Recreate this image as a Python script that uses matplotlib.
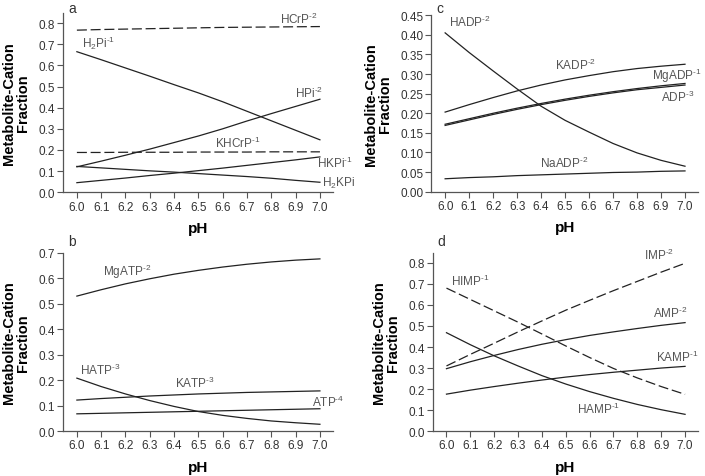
import numpy as np
import matplotlib
matplotlib.use("Agg")
import matplotlib.pyplot as plt
from matplotlib.ticker import MultipleLocator, FormatStrFormatter

plt.rcParams['font.family'] = ['Liberation Sans', 'DejaVu Sans']
plt.rcParams['mathtext.fontset'] = 'custom'
plt.rcParams['mathtext.rm'] = 'Liberation Sans'

ph = [6.0, 6.1, 6.2, 6.3, 6.4, 6.5, 6.6, 6.7, 6.8, 6.9, 7.0]

# panel a - phosphate / creatine phosphate species
hcrp = [0.767, 0.770, 0.772, 0.774, 0.776, 0.778, 0.780, 0.781, 0.782, 0.783, 0.784]
h2pi = [0.665, 0.627, 0.588, 0.549, 0.509, 0.470, 0.428, 0.383, 0.338, 0.293, 0.248]
hpi = [0.120, 0.147, 0.175, 0.204, 0.235, 0.266, 0.300, 0.337, 0.372, 0.406, 0.440]
khcrp = [0.188, 0.188, 0.189, 0.189, 0.189, 0.190, 0.190, 0.190, 0.191, 0.191, 0.191]
hkpi = [0.045, 0.056, 0.067, 0.079, 0.090, 0.102, 0.114, 0.127, 0.140, 0.153, 0.167]
h2kpi = [0.122, 0.115, 0.108, 0.101, 0.095, 0.088, 0.081, 0.074, 0.066, 0.056, 0.047]

# panel b - ATP species
mgatp = [0.530, 0.555, 0.578, 0.598, 0.616, 0.631, 0.644, 0.655, 0.664, 0.671, 0.676]
hatp = [0.208, 0.175, 0.146, 0.120, 0.097, 0.077, 0.062, 0.050, 0.040, 0.033, 0.027]
katp = [0.122, 0.128, 0.133, 0.138, 0.142, 0.146, 0.149, 0.152, 0.154, 0.156, 0.158]
atp = [0.068, 0.070, 0.072, 0.074, 0.076, 0.078, 0.080, 0.082, 0.084, 0.086, 0.088]

# panel c - ADP species
hadp = [0.405, 0.355, 0.308, 0.262, 0.218, 0.182, 0.152, 0.123, 0.099, 0.080, 0.065]
kadp = [0.203, 0.222, 0.240, 0.257, 0.272, 0.285, 0.296, 0.306, 0.314, 0.320, 0.325]
mgadp = [0.172, 0.186, 0.200, 0.213, 0.225, 0.236, 0.246, 0.255, 0.263, 0.270, 0.276]
adp = [0.169, 0.183, 0.197, 0.210, 0.222, 0.233, 0.243, 0.252, 0.260, 0.266, 0.272]
naadp = [0.033, 0.036, 0.038, 0.041, 0.043, 0.045, 0.047, 0.049, 0.050, 0.052, 0.053]

# panel d - AMP / IMP species
imp = [0.310, 0.365, 0.418, 0.472, 0.524, 0.575, 0.622, 0.668, 0.712, 0.756, 0.798]
himp = [0.680, 0.626, 0.572, 0.518, 0.462, 0.405, 0.350, 0.298, 0.253, 0.212, 0.175]
amp = [0.297, 0.330, 0.360, 0.388, 0.413, 0.435, 0.455, 0.472, 0.488, 0.503, 0.516]
kamp = [0.176, 0.195, 0.212, 0.228, 0.243, 0.257, 0.269, 0.280, 0.290, 0.300, 0.308]
hamp = [0.468, 0.411, 0.358, 0.310, 0.264, 0.224, 0.188, 0.156, 0.127, 0.102, 0.080]

line_c = '#222222'
text_c = '#555555'
dash = (0, (8, 3))

fig = plt.figure(figsize=(7.05, 4.77), dpi=100)
ax_a = fig.add_axes([0.0894, 0.595, 0.383, 0.376])
ax_b = fig.add_axes([0.0894, 0.094, 0.383, 0.374])
ax_c = fig.add_axes([0.612, 0.596, 0.378, 0.370])
ax_d = fig.add_axes([0.614, 0.094, 0.376, 0.374])


def sup(s):
    # short hyphen superscript like the original figure, not a math minus
    return r'$^{\mathregular{' + s.replace('-', '\u2010') + '}}$'


def style(ax, ymax, step, fmt, letter, ly):
    ax.set_xlim(5.943, 7.054)
    ax.set_ylim(0, ymax)
    ax.xaxis.set_major_locator(MultipleLocator(0.1))
    ax.xaxis.set_major_formatter(FormatStrFormatter('%.1f'))
    ax.yaxis.set_major_locator(MultipleLocator(step))
    ax.yaxis.set_major_formatter(FormatStrFormatter(fmt))
    for s in ['top', 'right']:
        ax.spines[s].set_visible(False)
    for s in ['left', 'bottom']:
        ax.spines[s].set_color('#555555')
        ax.spines[s].set_linewidth(0.9)
    ax.tick_params(direction='out', length=4, width=0.8, color='#555555',
                   labelcolor='#333333', labelsize=8.5, pad=2)
    ax.set_xlabel('pH', fontsize=11, fontweight='bold', labelpad=6)
    ax.set_ylabel('Metabolite-Cation\nFraction', fontsize=10.5,
                  fontweight='bold', linespacing=1.0, labelpad=6)
    ax.text(0.018, ly, letter, transform=ax.transAxes, fontsize=10,
            color='#333333', va='bottom', ha='left')


def lab(ax, x, y, s, **kw):
    ax.text(x, y, s, fontsize=8.5, color=text_c, **kw)


# a
style(ax_a, 0.849, 0.1, '%.1f', 'a', 0.99)
ax_a.plot(ph, hcrp, color=line_c, lw=0.9, ls=dash)
ax_a.plot(ph, khcrp, color=line_c, lw=0.9, ls=dash)
ax_a.plot(ph, h2pi, color=line_c, lw=0.9)
ax_a.plot(ph, hpi, color=line_c, lw=0.9)
ax_a.plot(ph, hkpi, color=line_c, lw=0.9)
ax_a.plot(ph, h2kpi, color=line_c, lw=0.9)
lab(ax_a, 6.835, 0.80, 'HCrP' + sup('-2'))
lab(ax_a, 6.02, 0.69, r'H$_{\mathregular{2}}$Pi' + sup('-1'))
lab(ax_a, 6.897, 0.45, 'HPi' + sup('-2'))
lab(ax_a, 6.57, 0.213, 'KHCrP' + sup('-1'))
lab(ax_a, 6.99, 0.118, 'HKPi' + sup('-1'))
lab(ax_a, 7.01, 0.047, r'H$_{\mathregular{2}}$KPi', va='center', clip_on=False)

# b
style(ax_b, 0.7, 0.1, '%.1f', 'b', 1.025)
ax_b.plot(ph, mgatp, color=line_c, lw=0.9)
ax_b.plot(ph, hatp, color=line_c, lw=0.9)
ax_b.plot(ph, katp, color=line_c, lw=0.9)
ax_b.plot(ph, atp, color=line_c, lw=0.9)
lab(ax_b, 6.108, 0.611, 'MgATP' + sup('-2'))
lab(ax_b, 6.012, 0.225, 'HATP' + sup('-3'))
lab(ax_b, 6.403, 0.173, 'KATP' + sup('-3'))
lab(ax_b, 6.966, 0.10, 'ATP' + sup('-4'))

# c
style(ax_c, 0.45, 0.05, '%.2f', 'c', 1.0)
ax_c.plot(ph, hadp, color=line_c, lw=0.9)
ax_c.plot(ph, kadp, color=line_c, lw=0.9)
ax_c.plot(ph, mgadp, color=line_c, lw=0.9)
ax_c.plot(ph, adp, color=line_c, lw=0.9)
ax_c.plot(ph, naadp, color=line_c, lw=0.9)
lab(ax_c, 6.018, 0.423, 'HADP' + sup('-2'))
lab(ax_c, 6.458, 0.312, 'KADP' + sup('-2'))
lab(ax_c, 6.862, 0.287, 'MgADP' + sup('-1'), clip_on=False)
lab(ax_c, 6.90, 0.232, 'ADP' + sup('-3'))
lab(ax_c, 6.396, 0.062, 'NaADP' + sup('-2'))

# d
style(ax_d, 0.848, 0.1, '%.1f', 'd', 1.025)
ax_d.plot(ph, imp, color=line_c, lw=0.9, ls=dash)
ax_d.plot(ph, himp, color=line_c, lw=0.9, ls=dash)
ax_d.plot(ph, amp, color=line_c, lw=0.9)
ax_d.plot(ph, kamp, color=line_c, lw=0.9)
ax_d.plot(ph, hamp, color=line_c, lw=0.9)
lab(ax_d, 6.02, 0.693, 'HIMP' + sup('-1'))
lab(ax_d, 6.828, 0.82, 'IMP' + sup('-2'))
lab(ax_d, 6.865, 0.543, 'AMP' + sup('-2'))
lab(ax_d, 6.878, 0.333, 'KAMP' + sup('-1'))
lab(ax_d, 6.548, 0.086, 'HAMP' + sup('-1'))

fig.savefig('out.png', dpi=100)
